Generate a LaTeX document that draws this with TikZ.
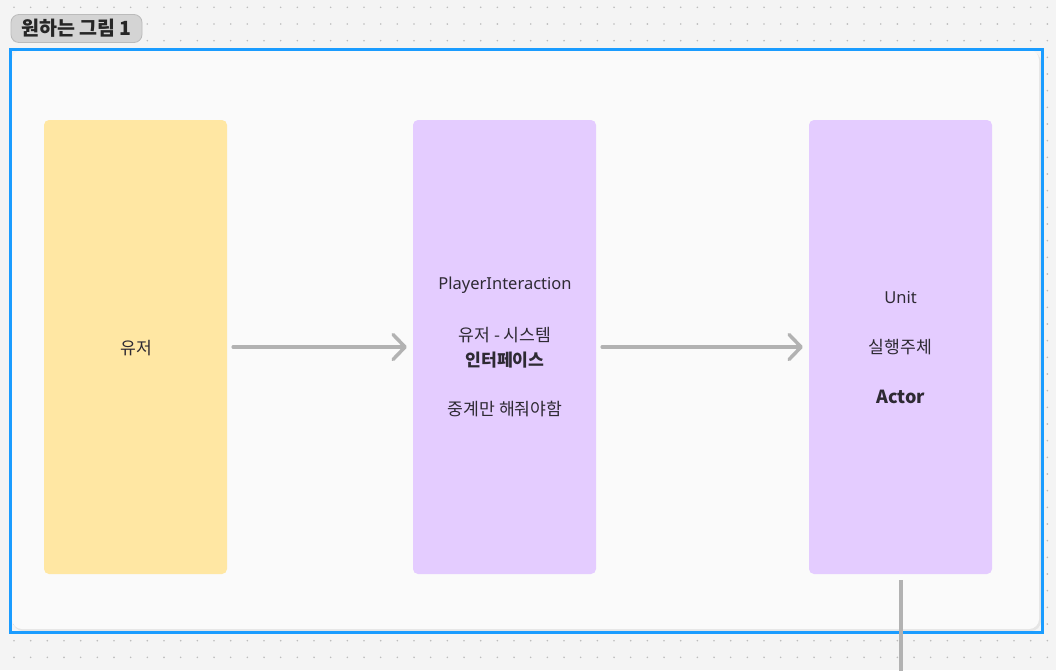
\documentclass[tikz,border=0pt]{standalone}
\usepackage{fontspec}
\setmainfont{Noto Sans}
\newfontfamily\kr{Noto Sans CJK KR}
\usetikzlibrary{arrows.meta}
\definecolor{bgc}{HTML}{F4F4F4}
\definecolor{dotc}{HTML}{BDBDBD}
\definecolor{panelc}{HTML}{FAFAFA}
\definecolor{bluec}{HTML}{1A9CFF}
\definecolor{yellowc}{HTML}{FFE7A3}
\definecolor{purplec}{HTML}{E4CCFF}
\definecolor{arrowc}{HTML}{B2B2B2}
\definecolor{textc}{HTML}{2E2A33}
\definecolor{tagc}{HTML}{D4D4D4}
\definecolor{tagline}{HTML}{BBBBBB}
\tikzset{
  card/.style={fill=#1, draw=none, rounded corners=5pt, minimum width=183pt, minimum height=454pt, inner sep=0pt},
  txt/.style={text=textc, inner sep=0pt, font=\fontsize{16.5}{19}\selectfont},
  krtxt/.style={text=textc, inner sep=0pt, font=\kr\fontsize{17.2}{20}\selectfont},
  krbold/.style={text=textc, inner sep=0pt, font=\kr\bfseries\fontsize{17.2}{20}\selectfont},
  latbold/.style={text=textc, inner sep=0pt, font=\kr\bfseries\fontsize{18}{20}\selectfont},
  conn/.style={draw=arrowc, line width=3.5pt, line cap=round, line join=round,
    -{Straight Barb[length=12pt, width=25pt, line width=3.5pt, round]}},
  plainconn/.style={draw=arrowc, line width=4pt}
}
\begin{document}
\begin{tikzpicture}[x=1pt, y=-1pt]
\useasboundingbox (0,0) rectangle (1056,670);
\fill[bgc] (0,0) rectangle (1056,670);
% dot grid
\foreach \i in {0,...,62}{
  \foreach \j in {0,...,39}{
    \fill[dotc] ({14+16.667*\i},{7.33+16.667*\j}) circle (0.9pt);
  }
}
% title tag
\node[fill=tagc, draw=tagline, line width=0.8pt, rounded corners=8pt,
      minimum width=131pt, minimum height=28pt, inner sep=0pt,
      text=black!85, font=\kr\bfseries\fontsize{19.5}{22}\selectfont] (tag) at (76.5,28.5) {원하는 그림 1};
% frame
\fill[black!10, rounded corners=10pt] (13,52) rectangle (1041,631);
\fill[panelc, rounded corners=10pt] (12,50) rectangle (1039,629);
\draw[bluec, line width=3pt] (10.5,49) rectangle (1042.8,632.8);
% cards
\node[card=yellowc] (user) at (135.5,347) {};
\node[card=purplec] (pi) at (504.5,347) {};
\node[card=purplec] (unit) at (900.5,347) {};
% texts
\node[krtxt] (userlbl) at (136,348) {유저};
\node[txt] (pi1) at (505,285) {PlayerInteraction};
\node[krtxt] (pi2) at (505,335) {유저 - 시스템};
\node[krbold] (pi3) at (505,360) {인터페이스};
\node[krtxt] (pi4) at (505,409) {중계만 해줘야함};
\node[txt] (u1) at (900.5,297) {Unit};
\node[krtxt] (u2) at (900.5,347) {실행주체};
\node[latbold] (u3) at (900.5,397) {Actor};
% connectors
\draw[conn, shorten <=6pt, shorten >=6pt] (user.east) -- (pi.west);
\draw[conn, shorten <=6pt, shorten >=6pt] (pi.east) -- (unit.west);
\coordinate (down) at (901,680);
\draw[plainconn, shorten <=6pt] (unit.south -| down) -- (down);
\end{tikzpicture}
\end{document}
